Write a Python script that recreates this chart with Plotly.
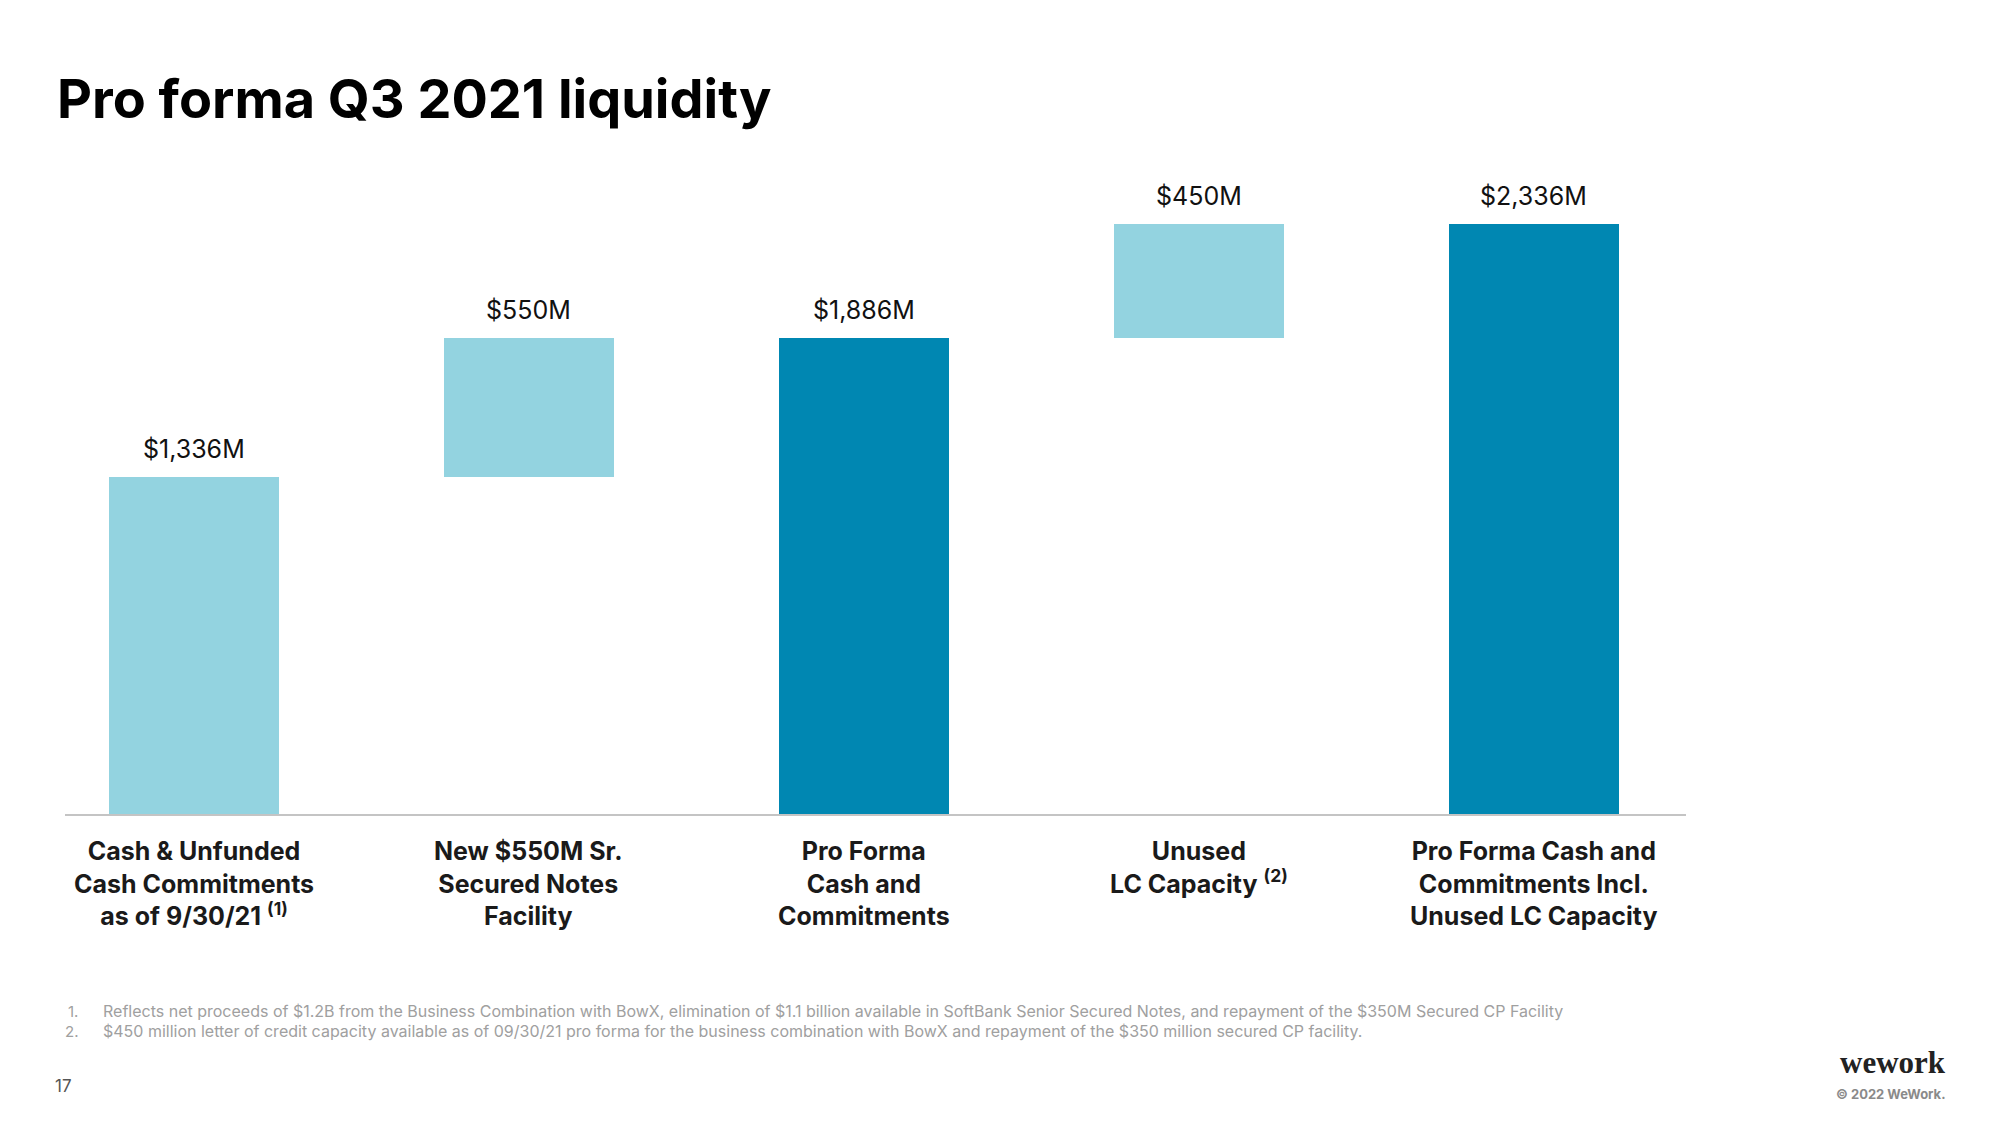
import plotly.graph_objects as go

# ---- data ----
categories = [
    "Cash & Unfunded<br>Cash Commitments<br>as of 9/30/21 <sup>(1)</sup>",
    "New $550M Sr.<br>Secured Notes<br>Facility",
    "Pro Forma<br>Cash and<br>Commitments",
    "Unused<br>LC Capacity <sup>(2)</sup>",
    "Pro Forma Cash and<br>Commitments Incl.<br>Unused LC Capacity",
]
values = [1336, 550, 1886, 450, 2336]
bases = [0, 1336, 0, 1886, 0]
value_labels = ["$1,336M", "$550M", "$1,886M", "$450M", "$2,336M"]
bar_kind = ["light", "light", "dark", "light", "dark"]

footnotes = [
    "Reflects net proceeds of $1.2B from the Business Combination with BowX, elimination of $1.1 billion available in SoftBank Senior Secured Notes, and repayment of the $350M Secured CP Facility",
    "$450 million letter of credit capacity available as of 09/30/21 pro forma for the business combination with BowX and repayment of the $350 million secured CP facility.",
]

LIGHT = "#93D3E0"
DARK = "#0087B2"
FONT = "Inter"

W, H = 2000, 1125
L, R, T, B = 65, 314, 150, 311
pw, ph = W - L - R, H - T - B


def px_to_paper(px, py):
    return (px - L) / pw, (H - B - py) / ph


x = list(range(len(values)))
colors = [LIGHT if k == "light" else DARK for k in bar_kind]

fig = go.Figure()
fig.add_trace(go.Bar(
    x=x, y=values, base=bases, width=0.507,
    marker=dict(color=colors, line=dict(width=0)),
    cliponaxis=False, hoverinfo="skip",
))

# value labels above bars
for i, (v, b, lab) in enumerate(zip(values, bases, value_labels)):
    fig.add_annotation(
        x=i, xref="x", y=v + b, yref="y", yanchor="middle", yshift=28,
        text=lab, showarrow=False,
        font=dict(family=FONT, size=25, color="#111111"),
    )

# category labels below axis
_, cat_y = px_to_paper(0, 814 + 20)
for i, lab in enumerate(categories):
    fig.add_annotation(
        x=i, xref="x", y=cat_y, yref="paper", yanchor="top",
        text="<b>" + lab + "</b>", showarrow=False,
        font=dict(family=FONT, size=25, color="#1a1a1a"), align="center",
    )

# title
tx, ty = px_to_paper(55, 99)
fig.add_annotation(
    x=tx, y=ty, xref="paper", yref="paper", text="<b>Pro forma Q3 2021 liquidity</b>",
    showarrow=False, xanchor="left", yanchor="middle",
    font=dict(family=FONT, size=54, color="#000000"),
)

# footnotes
for j, fn in enumerate(footnotes):
    nx, ny = px_to_paper(80, 1011 + 20 * j)
    fig.add_annotation(x=nx, y=ny, xref="paper", yref="paper", text=f"{j+1}.",
                       showarrow=False, xanchor="right", yanchor="middle",
                       font=dict(family=FONT, size=15, color="#a0a0a0"))
    fx, fy = px_to_paper(101, 1011 + 20 * j)
    fig.add_annotation(x=fx, y=fy, xref="paper", yref="paper", text=fn,
                       showarrow=False, xanchor="left", yanchor="middle",
                       font=dict(family=FONT, size=16, color="#a0a0a0"))

# page number
px_, py_ = px_to_paper(53, 1086)
fig.add_annotation(x=px_, y=py_, xref="paper", yref="paper", text="17",
                   showarrow=False, xanchor="left", yanchor="middle",
                   font=dict(family=FONT, size=17, color="#555555"))

# logo + copyright
lx, ly = px_to_paper(1948, 1062)
fig.add_annotation(x=lx, y=ly, xref="paper", yref="paper", text="<b>wework</b>",
                   showarrow=False, xanchor="right", yanchor="middle",
                   font=dict(family="Liberation Serif", size=31, color="#222222"))
cx, cy = px_to_paper(1948, 1094)
fig.add_annotation(x=cx, y=cy, xref="paper", yref="paper", text="<b>© 2022 WeWork.</b>",
                   showarrow=False, xanchor="right", yanchor="middle",
                   font=dict(family=FONT, size=13, color="#8a8a8a"))

fig.update_layout(
    width=W, height=H,
    margin=dict(l=L, r=R, t=T, b=B, pad=0),
    paper_bgcolor="white", plot_bgcolor="white",
    showlegend=False,
    bargap=0,
    xaxis=dict(range=[-0.384, 4.455], showgrid=False, zeroline=False,
               showticklabels=False, ticks="", showline=True,
               linecolor="#c4c4c4", linewidth=2),
    yaxis=dict(range=[0, 664 / 0.2525], showgrid=False, zeroline=False,
               showticklabels=False, ticks="", showline=False),
)

fig.write_html("out.html")
